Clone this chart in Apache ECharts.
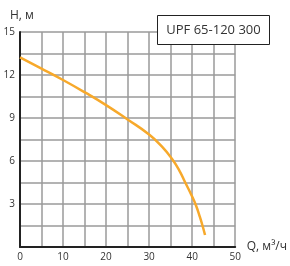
<!DOCTYPE html>
<html>
<head>
<meta charset="utf-8">
<script src="https://cdn.jsdelivr.net/npm/echarts@6/dist/echarts.min.js"></script>
<style>
  html, body { margin: 0; padding: 0; background: #fff; }
  #chart { width: 290px; height: 266px; }
</style>
</head>
<body>
<div id="chart"></div>
<script>
// расход Q, м³/ч и напор H, м
const flowQ = [0, 5, 10, 15, 20, 25, 30, 33, 35.3, 37, 38.4, 39.8, 40.9, 41.8, 42.4, 43]
const headH = [13.23, 12.45, 11.65, 10.8, 9.9, 8.9, 7.85, 7.0, 6.15, 5.35, 4.5, 3.65, 2.9, 2.1, 1.5, 0.84]
const xTicks = [0, 10, 20, 30, 40, 50]
const yTicks = [3, 6, 9, 12, 15]
const modelName = 'UPF 65-120 300'

const chart = echarts.init(document.getElementById('chart'))
const font = '"Open Sans", "Noto Sans", sans-serif'

chart.setOption({
  animation: false,
  grid: { left: 20, right: 54, top: 32, bottom: 19 },
  title: {
    text: 'H, м',
    left: 5,
    top: 5,
    textStyle: { fontFamily: font, fontSize: 12, fontWeight: 'normal', color: '#333' }
  },
  xAxis: {
    type: 'value',
    min: 0,
    max: 50,
    interval: 5,
    name: 'Q, м³/ч',
    nameLocation: 'end',
    nameGap: 8,
    nameTextStyle: { fontFamily: font, fontSize: 12, color: '#333', verticalAlign: 'middle' },
    axisLine: { lineStyle: { color: '#222', width: 2 } },
    axisTick: { show: false },
    axisLabel: {
      fontFamily: font, fontSize: 10, color: '#333', margin: 5,
      formatter: v => xTicks.includes(v) ? String(v) : ''
    },
    splitLine: { lineStyle: { color: '#9a9a9a', width: 1.5 } }
  },
  yAxis: {
    type: 'value',
    min: 0,
    max: 15,
    interval: 1.5,
    axisLine: { show: true, lineStyle: { color: '#222', width: 2 } },
    axisTick: { show: false },
    axisLabel: {
      fontFamily: font, fontSize: 10, color: '#333', margin: 5,
      formatter: v => yTicks.includes(v) ? String(v) : ''
    },
    splitLine: { lineStyle: { color: '#9a9a9a', width: 1.5 } }
  },
  graphic: [{
    type: 'group',
    left: 157,
    top: 15,
    z: 100,
    children: [
      {
        type: 'rect',
        z: 100,
        shape: { x: 0, y: 0, width: 112, height: 29 },
        style: { fill: '#fff', stroke: '#222', lineWidth: 1 }
      },
      {
        type: 'text',
        z: 101,
        x: 56, y: 15,
        style: {
          text: modelName, fill: '#333', font: '13px ' + font,
          align: 'center', verticalAlign: 'middle'
        }
      }
    ]
  }],
  series: [{
    type: 'line',
    data: flowQ.map((q, i) => [q, headH[i]]),
    smooth: 0.5,
    showSymbol: false,
    lineStyle: { color: '#f7a92b', width: 2.5 }
  }]
})
</script>
</body>
</html>
